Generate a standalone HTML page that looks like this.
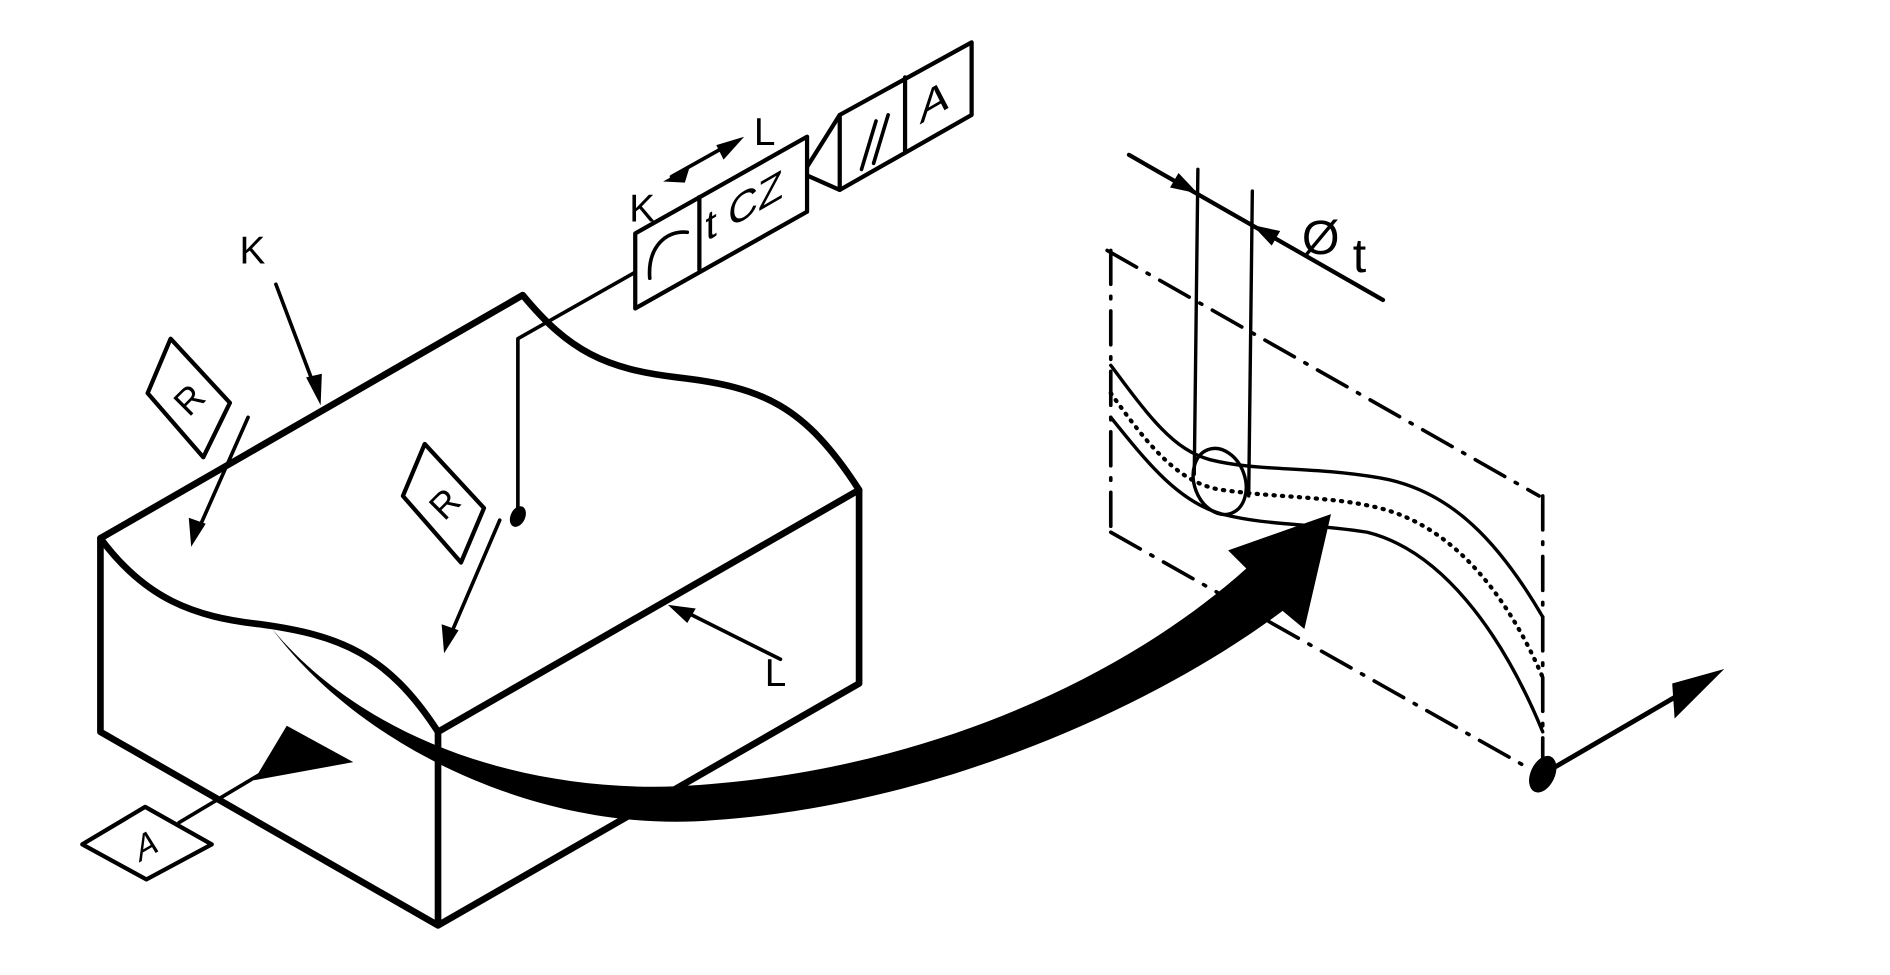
<!DOCTYPE html>
<html><head><meta charset="utf-8"><style>html,body{margin:0;padding:0;background:#fff}svg{display:block}</style></head>
<body>
<svg width="1890" height="975" viewBox="0 0 1562 806" preserveAspectRatio="none" xmlns="http://www.w3.org/2000/svg" font-family="Liberation Sans, sans-serif">
<g fill="none" stroke="#000" stroke-linejoin="round" stroke-linecap="round">
<g stroke-width="5.5">
<path d="M83,445 L432,244"/>
<path d="M432,244 C470,290 500,305 560,312 C630,320 665,335 710,405"/>
<path d="M83,445 C120,495 160,510 215,516 C280,525 320,540 362,605"/>
<path d="M83,445 L83,605 L362,765 L710,565 L710,405 L362,605 L362,765"/>
</g>
<g stroke-width="3">
<path d="M525,225 L428,280 L428,420"/>
<path d="M228,235 L262,325"/>
<path d="M205,345 L163,440"/>
<path d="M413,430 L371,528"/>
<path d="M645,545 L565,505"/>
<path d="M148,680 L215,640"/>
<path d="M555,146 L605,118"/>
<path d="M122,325 L141,280 L190,333 L168,378 Z" stroke-width="3.5"/>
<path d="M333,410 L351,367 L400,420 L381,465 Z" stroke-width="3.5"/>
<path d="M68,698 L120,667 L175,698 L121,727 Z" stroke-width="3.5"/>
</g>
<g stroke-width="3.5">
<path d="M525,193 L667,113 L667,175 L525,255 Z"/>
<path d="M578,163 L578,223"/>
<path d="M694,95 L803,35 L803,95 L694,157 Z"/>
<path d="M748,64 L748,126"/>
<path d="M667,138 L694,95 M667,145 L694,157"/>
<path d="M537,230 C535,205 550,190 568,192" stroke-width="3"/>
<path d="M712,140 L724,100 M722,135 L734,95" stroke-width="3"/>
</g>
<g stroke-width="3" stroke-dasharray="28,10,2,10">
<path d="M915,207 L1272,410"/>
<path d="M918,207 L918,440"/>
<path d="M918,440 L1258,632"/>
<path d="M1275,410 L1275,640"/>
</g>
<g stroke-width="2.8">
<path d="M918,302 C950,345 970,372 1000,380 C1040,390 1080,385 1140,395 C1200,405 1240,450 1275,510"/>
<path d="M918,345 C950,385 975,415 1010,425 C1050,435 1080,432 1130,440 C1190,455 1240,520 1275,605"/>
<path d="M918,325 C950,370 975,400 1010,405 C1060,412 1100,410 1140,420 C1200,435 1245,490 1275,560" stroke-width="3.5" stroke-dasharray="1,6"/>
<ellipse cx="1008" cy="398" rx="21" ry="28" transform="rotate(-20 1008 398)"/>
<path d="M990,140 L987,392 M1035,158 L1032,410"/>
<path d="M933,128 L1143,248" stroke-width="3.5"/>
<path d="M1275,640 L1390,573" stroke-width="4"/>
</g>
<path d="M225,520 C300,620 450,690 590,678 C780,665 960,580 1060,505 L1078,520 L1100,425 L1015,455 L1030,470 C930,560 760,640 560,650 C430,655 300,610 225,520 Z" fill="#000" stroke="none"/>
</g>
<g fill="#000">
<polygon points="265,335 253,312 266,309"/>
<polygon points="158,452 156,428 170,433"/>
<polygon points="367,540 365,516 379,521"/>
<polygon points="552,500 575,503 568,515"/>
<polygon points="548,150 570,138 566,151"/>
<polygon points="615,113 592,120 598,132"/>
<polygon points="237,600 292,630 210,645"/>
<polygon points="990,160 974,143 967,155"/>
<polygon points="1035,186 1058,191 1051,203"/>
<polygon points="1425,553 1382,565 1384,594"/>
<ellipse cx="428" cy="427" rx="6" ry="9" transform="rotate(25 428 427)"/>
<ellipse cx="1275" cy="640" rx="10" ry="16" transform="rotate(25 1275 640)"/>
</g>
<g font-size="34" fill="#000">
<text x="198" y="218" font-size="32">K</text>
<text x="520" y="183" font-size="32">K</text>
<text x="623" y="120" font-size="32">L</text>
<text x="632" y="567" font-size="32">L</text>
<text transform="translate(583,200) skewY(-30)" font-size="34">t CZ</text>
<text transform="translate(760,103) skewY(-30)" font-size="36">A</text>
<text x="1076" y="210" font-size="40">Ø</text>
<text x="1118" y="225" font-size="40">t</text>
<text transform="translate(156,330) rotate(-45)" text-anchor="middle" dy="11" font-size="30">R</text>
<text transform="translate(367,416) rotate(-45)" text-anchor="middle" dy="11" font-size="30">R</text>
<text transform="translate(121,698) rotate(-30) skewX(-20)" text-anchor="middle" dy="10" font-size="28">A</text>
</g>
</svg>
</body></html>
